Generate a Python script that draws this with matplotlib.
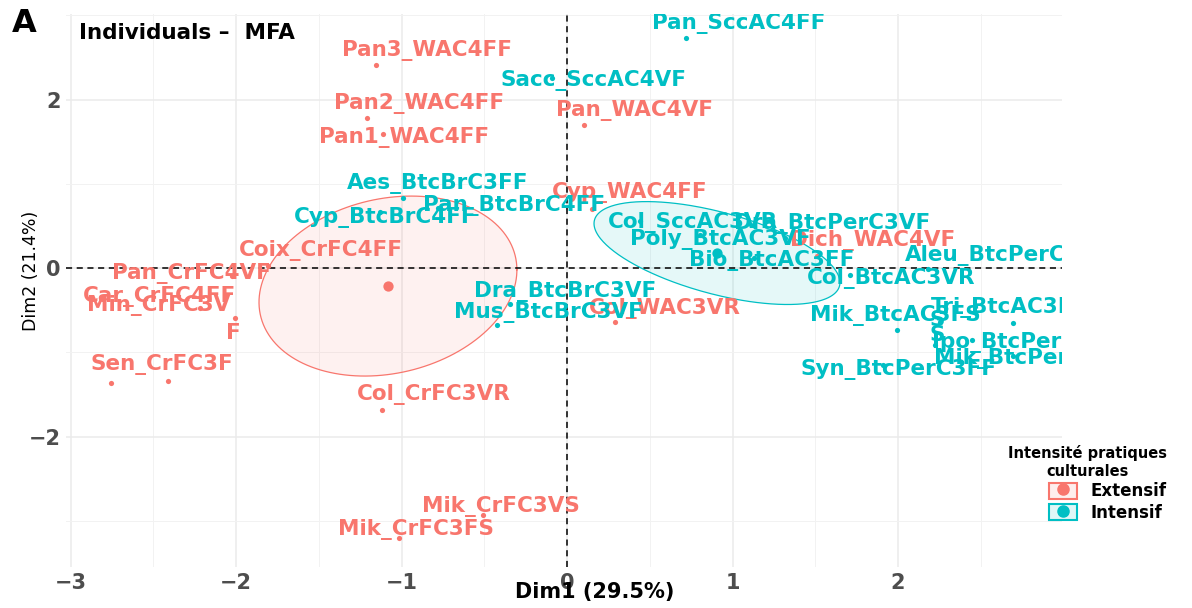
import numpy as np
import matplotlib
matplotlib.use("Agg")
import matplotlib.pyplot as plt
from matplotlib.transforms import offset_copy
from matplotlib.patches import Patch
from matplotlib.lines import Line2D
from matplotlib.colors import to_rgba

# individus du groupe extensif
ext_names = ["Pan3_WAC4FF", "Pan2_WAC4FF", "Pan1_WAC4FF", "Pan_WAC4VF", "Cyp_WAC4FF",
             "Coix_CrFC4FF", "Pan_CrFC4VF", "Min_CrFC3V", "F", "Sen_CrFC3F",
             "Car_CrFC4FF", "Col_CrFC3VR", "Col_WAC3VR", "Dich_WAC4VF",
             "Mik_CrFC3VS", "Mik_CrFC3FS"]
ext_x = [-1.154, -1.208, -1.112, 0.103, 0.151, -1.807, -2.024, -2.218, -2.006, -2.411,
         -2.755, -1.118, 0.290, 1.511, -0.508, -1.015]
ext_y = [2.410, 1.780, 1.591, 1.697, 0.700, 0.024, -0.095, -0.475, -0.593, -1.341,
         -1.365, -1.685, -0.641, 0.142, -2.932, -3.205]

# individus du groupe intensif
int_names = ["Pan_SccAC4FF", "Sacc_SccAC4VF", "Aes_BtcBrC3FF", "Pan_BtcBrC4FF",
             "Cyp_BtcBrC4FF", "Dra_BtcBrC3VF", "Mus_BtcBrC3VF", "Col_SccAC3VR",
             "Dra_BtcPerC3VF", "Poly_BtcAC3VF", "Bio_BtcAC3FF", "Col_BtcAC3VR",
             "Aleu_BtcPerC3VF", "Mik_BtcAC3FS", "S", "S", "Tri_BtcAC3FF",
             "Ipo_BtcPerC3FF", "Mik_BtcPerC3FF", "Syn_BtcPerC3FF"]
int_x = [0.719, -0.091, -0.991, -0.779, -1.130, -0.344, -0.423, 0.441, 1.317, 0.804,
         1.130, 1.710, 2.181, 1.994, 2.254, 2.224, 2.695, 2.447, 2.695, 1.909]
int_y = [2.730, 2.255, 0.831, 0.712, 0.665, -0.427, -0.677, 0.558, 0.356, 0.392,
         0.119, -0.083, -0.012, -0.736, -0.641, -0.914, -0.653, -0.855, -1.045, -1.151]

# barycentres des groupes
ext_mean = (-1.082, -0.214)
int_mean = (0.906, 0.178)

# matrices de forme des ellipses de confiance
ext_shape = [[0.607, 0.150], [0.150, 1.141]]
int_shape = [[0.552, -0.26], [-0.26, 0.373]]

# decalage des etiquettes (pixels, droite / bas)
ext_off = [(51, -15), (52, -15), (21, 3), (50, -15), (38, -17), (53, -16), (-41, -3),
           (-41, -3), (-2, 15), (-6, -17), (48, -87), (52, -15), (50, -14), (56, -16),
           (18, -9), (17, -9)]
int_off = [(53, -15), (42, 2), (35, -15), (76, -3), (5, 5), (55, -13), (51, -13),
           (53, 1), (47, -15), (20, 4), (18, 2), (41, 3), (80, -14), (-2, -15),
           (-3, -2), (2, -10), (-4, -16), (55, 2), (18, 2), (16, 4)]

RED = "#F8766D"
CYAN = "#00BFC4"

fig = plt.figure(figsize=(11.92, 6.08), dpi=100)
ax = fig.add_axes([0.0554, 0.0674, 0.8356, 0.9095])
ax.set_xlim(-3.027, 2.991)
ax.set_ylim(-3.549, 3.015)

for s in ax.spines.values():
    s.set_visible(False)

ax.set_xticks([-3, -2, -1, 0, 1, 2])
ax.set_yticks([-2, 0, 2])
ax.set_xticks(np.arange(-2.5, 3.0, 1.0), minor=True)
ax.set_yticks([-3, -1, 1, 3], minor=True)
ax.grid(True, which="major", color="#EBEBEB", lw=1.1)
ax.grid(True, which="minor", color="#F2F2F2", lw=0.7)
ax.set_axisbelow(True)
ax.tick_params(which="both", length=0, labelsize=15, labelcolor="#4D4D4D", pad=4)
for lab in ax.get_xticklabels() + ax.get_yticklabels():
    lab.set_fontweight("bold")

ax.axhline(0, color="black", ls=(0, (4, 3)), lw=1.1, zorder=2)
ax.axvline(0, color="black", ls=(0, (4, 3)), lw=1.1, zorder=2)


def draw_ellipse(center, shape, color):
    t = np.linspace(0, 2 * np.pi, 300)
    L = np.linalg.cholesky(np.array(shape))
    pts = (L @ np.vstack([np.cos(t), np.sin(t)])).T + np.array(center)
    ax.fill(pts[:, 0], pts[:, 1], color=color, alpha=0.1, lw=0, zorder=1)
    ax.plot(pts[:, 0], pts[:, 1], color=color, lw=0.9, zorder=1)


draw_ellipse(ext_mean, ext_shape, RED)
draw_ellipse(int_mean, int_shape, CYAN)


def draw_group(xs, ys, names, offs, color, mean):
    ax.scatter(xs, ys, s=14, color=color, zorder=3, lw=0)
    ax.scatter([mean[0]], [mean[1]], s=55, color=color, zorder=3, lw=0)
    for x, y, n, (dx, dy) in zip(xs, ys, names, offs):
        tr = offset_copy(ax.transData, fig=fig, x=dx, y=-dy, units="dots")
        ax.text(x, y, n, transform=tr, ha="center", va="center", color=color,
                fontsize=15.5, fontweight="bold", clip_on=True, zorder=4)


draw_group(ext_x, ext_y, ext_names, ext_off, RED, ext_mean)
draw_group(int_x, int_y, int_names, int_off, CYAN, int_mean)

fig.text(79 / 1192, 1 - 33 / 608, "Individuals \u2013  MFA", fontsize=15.5,
         fontweight="bold", ha="left", va="center")
fig.text(12 / 1192, 1 - 23 / 608, "A", fontsize=23, fontweight="bold",
         ha="left", va="center")

fig.text(595 / 1192, 1 - 592 / 608, "Dim1 (29.5%)", fontsize=15, fontweight="bold",
         ha="center", va="center")
fig.text(31 / 1192, 1 - 271 / 608, "Dim2 (21.4%)", fontsize=12.5, rotation=90,
         ha="center", va="center")

handles = [(Patch(facecolor=to_rgba(RED, 0.12), edgecolor=RED, lw=1.5),
            Line2D([], [], marker="o", color=RED, ls="", ms=8)),
           (Patch(facecolor=to_rgba(CYAN, 0.12), edgecolor=CYAN, lw=1.5),
            Line2D([], [], marker="o", color=CYAN, ls="", ms=8))]
leg = fig.legend(handles, ["Extensif", "Intensif"], loc="upper center",
                 bbox_to_anchor=(0.912, 0.292), frameon=False,
                 title="Intensit\u00e9 pratiques\nculturales",
                 title_fontproperties={"weight": "bold", "size": 10.5},
                 prop={"weight": "bold", "size": 12}, handlelength=1.7,
                 handleheight=1.1, handletextpad=0.8, labelspacing=0.2,
                 alignment="right")
leg.get_title().set_multialignment("center")

fig.savefig("out.png", dpi=100)
